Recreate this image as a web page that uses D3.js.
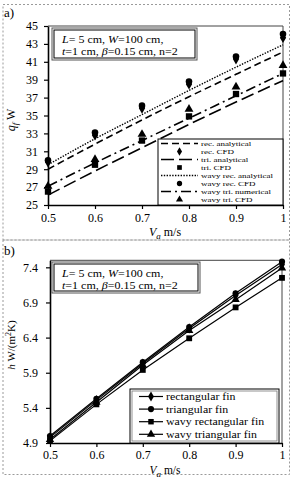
<!DOCTYPE html>
<html>
<head>
<meta charset="utf-8">
<script src="https://cdn.jsdelivr.net/npm/d3@7"></script>
<style>
  body { margin: 0; background: #fff; }
  svg text { font-family: 'Liberation Serif', 'Times New Roman', serif; fill: #000; }
</style>
</head>
<body>
<svg id="chart" width="296" height="480"></svg>
<script>
// air velocity V_a (m/s)
const speeds = [0.5, 0.6, 0.7, 0.8, 0.9, 1.0]
const speedTicks = [0.5, 0.6, 0.7, 0.8, 0.9, 1]

// panel a: heat rate q_f (W)
const qTicks = [25, 27, 29, 31, 33, 35, 37, 39, 41, 43, 45]
const qRecAnalytical = [29.0, 31.8, 34.5, 37.1, 39.6, 42.1]
const qRecCfd = [29.8, 32.8, 35.8, 38.5, 41.3, 43.7]
const qTriAnalytical = [26.1, 28.8, 31.4, 34.0, 36.5, 38.9]
const qTriCfd = [26.5, 29.5, 32.2, 34.9, 37.4, 39.7]
const qWavyRecAnalytical = [29.5, 32.4, 35.1, 37.8, 40.4, 42.9]
const qWavyRecCfd = [30.0, 33.1, 36.1, 38.8, 41.6, 44.1]
const qWavyTriNumerical = [27.1, 29.7, 32.2, 34.7, 37.2, 39.7]
const qWavyTriCfd = [27.1, 30.1, 32.9, 35.7, 38.2, 40.6]

// panel b: heat transfer coefficient h (W/(m2K))
const hTicks = [4.9, 5.4, 5.9, 6.4, 6.9, 7.4]
const hRect = [4.98, 5.51, 6.03, 6.53, 7.00, 7.44]
const hTri = [5.00, 5.53, 6.05, 6.55, 7.03, 7.48]
const hWavyRect = [4.93, 5.45, 5.94, 6.39, 6.83, 7.25]
const hWavyTri = [4.95, 5.48, 6.01, 6.50, 6.94, 7.39]

const svg = d3.select('#chart')

const symbolOf = {
  diamond: d3.symbolDiamond,
  square: d3.symbolSquare,
  circle: d3.symbolCircle,
  triangle: d3.symbolTriangle,
}

const toPoints = (values) => values.map((v, i) => ({ x: speeds[i], y: v }))

// the source image is a little stretched sideways, so wide-and-short text
const wideText = (x, y, size, stretch) =>
  svg.append('text')
    .attr('transform', `translate(${x},${y}) scale(${stretch},1)`)
    .style('font-size', `${size}px`)

const drawPanelBorder = (y0, y1, label, labelY) => {
  svg.append('rect')
    .attr('x', 3).attr('y', y0)
    .attr('width', 286.5).attr('height', y1 - y0)
    .attr('fill', 'none')
    .attr('stroke', '#9a9a9a')
    .attr('stroke-dasharray', '2,2')
  svg.append('text')
    .attr('x', 4).attr('y', labelY)
    .style('font-size', '13px')
    .text(label)
}

const drawAxes = ({ x, y, yTicks, yFormat, xPad, yPad }) => {
  const [x0, x1] = x.range()
  const [yb, yt] = y.range()

  // frame top/right
  svg.append('path')
    .attr('d', `M${x0},${yt}H${x1}V${yb}`)
    .attr('fill', 'none')
    .attr('stroke', '#444')
    .attr('stroke-width', 1)

  const gx = svg.append('g')
    .attr('transform', `translate(0,${yb})`)
    .call(d3.axisBottom(x).tickValues(speedTicks).tickSize(4).tickSizeOuter(0).tickPadding(xPad).tickFormat(d3.format('')))
  const gy = svg.append('g')
    .attr('transform', `translate(${x0},0)`)
    .call(d3.axisLeft(y).tickValues(yTicks).tickSize(4).tickSizeOuter(0).tickPadding(yPad).tickFormat(yFormat))

  ;[gx, gy].forEach((g) => {
    g.select('.domain').attr('stroke', '#000').attr('stroke-width', 1.6)
    g.selectAll('.tick line').attr('stroke', '#000').attr('stroke-width', 1.2)
    g.selectAll('.tick text')
      .style('font-family', "'Liberation Serif', serif")
      .style('font-size', '12px')
      .attr('fill', '#000')
  })
}

const drawXTitle = (cx, baseline, size) => {
  const t = svg.append('text')
    .attr('x', cx).attr('y', baseline)
    .attr('text-anchor', 'middle')
    .style('font-size', `${size}px`)
  t.append('tspan').style('font-style', 'italic').text('V')
  t.append('tspan').attr('dy', 3).style('font-size', '9px').style('font-style', 'italic').text('a')
  t.append('tspan').attr('dy', -3).text(' m/s')
}

const drawInfoBox = (x0, y0, w, h, baselines) => {
  svg.append('rect')
    .attr('x', x0).attr('y', y0).attr('width', w).attr('height', h)
    .attr('fill', '#fff').attr('stroke', '#555').attr('stroke-width', 1)
  svg.append('rect')
    .attr('x', x0 + 2).attr('y', y0 + 2).attr('width', w - 4).attr('height', h - 4)
    .attr('fill', 'none').attr('stroke', '#000').attr('stroke-width', 1)

  const l1 = wideText(x0 + 10, baselines[0], 10, 1.2)
  l1.append('tspan').style('font-style', 'italic').text('L')
  l1.append('tspan').text('= 5 cm, ')
  l1.append('tspan').style('font-style', 'italic').text('W')
  l1.append('tspan').text('=100 cm,')

  const l2 = wideText(x0 + 10, baselines[1], 10, 1.2)
  l2.append('tspan').style('font-style', 'italic').text('t')
  l2.append('tspan').text('=1 cm, ')
  l2.append('tspan').style('font-style', 'italic').text('β')
  l2.append('tspan').text('=0.15 cm, n=2')
}

const drawMarkers = (points, x, y, shape, size) => {
  svg.append('g')
    .selectAll('path')
    .data(points)
    .join('path')
    .attr('d', d3.symbol(symbolOf[shape], size))
    .attr('transform', (d) => `translate(${x(d.x)},${y(d.y)})`)
    .attr('fill', '#000')
}

// ---------------- panel a ----------------
drawPanelBorder(4.5, 240, 'a)', 17)

const xA = d3.scaleLinear().domain([0.5, 1]).range([48, 283])
const yA = d3.scaleLinear().domain([25, 45]).range([205, 26])

const seriesA = [
  { name: 'rec. analytical', values: qRecAnalytical, dash: '7,4', width: 1.6 },
  { name: 'rec. CFD', values: qRecCfd, marker: 'diamond' },
  { name: 'tri. analytical', values: qTriAnalytical, dash: '13,5', width: 1.6 },
  { name: 'tri. CFD', values: qTriCfd, marker: 'square' },
  { name: 'wavy rec. analytical', values: qWavyRecAnalytical, dash: '1.4,1.4', width: 1.4 },
  { name: 'wavy rec. CFD', values: qWavyRecCfd, marker: 'circle' },
  { name: 'wavy tri. numerical', values: qWavyTriNumerical, dash: '10,4,2,4', width: 1.6 },
  { name: 'wavy tri. CFD', values: qWavyTriCfd, marker: 'triangle' },
]

drawAxes({ x: xA, y: yA, yTicks: qTicks, yFormat: d3.format('d'), xPad: 4, yPad: 6 })

const lineA = d3.line().x((d) => xA(d.x)).y((d) => yA(d.y)).curve(d3.curveMonotoneX)

seriesA.filter((s) => s.dash).forEach((s) => {
  svg.append('path')
    .datum(toPoints(s.values))
    .attr('d', lineA)
    .attr('fill', 'none')
    .attr('stroke', '#000')
    .attr('stroke-width', s.width)
    .attr('stroke-dasharray', s.dash)
})
seriesA.filter((s) => s.marker).forEach((s) => {
  drawMarkers(toPoints(s.values), xA, yA, s.marker, s.marker === 'square' ? 40 : 34)
})

drawInfoBox(52, 28, 145, 32, [43, 55])

// legend a
svg.append('rect')
  .attr('x', 158).attr('y', 139).attr('width', 125).attr('height', 66)
  .attr('fill', '#fff').attr('stroke', '#000').attr('stroke-width', 1)

const legA = svg.append('g')
  .selectAll('g')
  .data(seriesA)
  .join('g')
  .attr('transform', (d, i) => `translate(0,${143.5 + i * 8})`)

legA.filter((d) => d.dash)
  .append('line')
  .attr('x1', 161).attr('x2', 198)
  .attr('stroke', '#000')
  .attr('stroke-width', (d) => d.width)
  .attr('stroke-dasharray', (d) => d.dash)
legA.filter((d) => d.marker)
  .append('path')
  .attr('transform', 'translate(179.5,0)')
  .attr('d', (d) => d3.symbol(symbolOf[d.marker], 22)())
  .attr('fill', '#000')
legA.append('text')
  .attr('transform', 'translate(201,0) scale(1.3,1)')
  .attr('dy', '0.33em')
  .style('font-size', '6.9px')
  .text((d) => d.name)

// axis titles a
drawXTitle(165, 236, 12)
const qTitle = svg.append('text')
  .attr('transform', 'translate(15,120) rotate(-90)')
  .attr('text-anchor', 'middle')
  .style('font-size', '12px')
qTitle.append('tspan').style('font-style', 'italic').text('q')
qTitle.append('tspan').attr('dy', 3).style('font-size', '9px').style('font-style', 'italic').text('f')
qTitle.append('tspan').attr('dy', -3).text(' W')

// ---------------- panel b ----------------
drawPanelBorder(240, 474.5, 'b)', 255)

const xB = d3.scaleLinear().domain([0.5, 1]).range([50, 282])
const yB = d3.scaleLinear().domain([4.9, 7.5]).range([443, 260.3])

const seriesB = [
  { name: 'rectangular fin', values: hRect, marker: 'diamond' },
  { name: 'triangular fin', values: hTri, marker: 'circle' },
  { name: 'wavy rectangular fin', values: hWavyRect, marker: 'square' },
  { name: 'wavy triangular fin', values: hWavyTri, marker: 'triangle' },
]

drawAxes({ x: xB, y: yB, yTicks: hTicks, yFormat: d3.format('.1f'), xPad: 3, yPad: 8 })

const lineB = d3.line().x((d) => xB(d.x)).y((d) => yB(d.y))

seriesB.forEach((s) => {
  svg.append('path')
    .datum(toPoints(s.values))
    .attr('d', lineB)
    .attr('fill', 'none')
    .attr('stroke', '#000')
    .attr('stroke-width', 1.2)
})
seriesB.forEach((s) => {
  drawMarkers(toPoints(s.values), xB, yB, s.marker, s.marker === 'square' ? 34 : 30)
})

drawInfoBox(52, 262, 148, 31, [277, 289])

// legend b
svg.append('rect')
  .attr('x', 130).attr('y', 389).attr('width', 149).attr('height', 54)
  .attr('fill', '#fff').attr('stroke', '#000').attr('stroke-width', 1)
svg.append('rect')
  .attr('x', 132).attr('y', 391).attr('width', 145).attr('height', 50)
  .attr('fill', 'none').attr('stroke', '#777').attr('stroke-width', 0.8)

const legB = svg.append('g')
  .selectAll('g')
  .data(seriesB)
  .join('g')
  .attr('transform', (d, i) => `translate(0,${396.5 + i * 12.6})`)

legB.append('line')
  .attr('x1', 139).attr('x2', 163)
  .attr('stroke', '#000').attr('stroke-width', 1.2)
legB.append('path')
  .attr('transform', 'translate(151,0)')
  .attr('d', (d) => d3.symbol(symbolOf[d.marker], 30)())
  .attr('fill', '#000')
legB.append('text')
  .attr('transform', 'translate(166,0) scale(1.1,1)')
  .attr('dy', '0.33em')
  .style('font-size', '10.8px')
  .text((d) => d.name)

// axis titles b
drawXTitle(165, 474, 11.5)
const hTitle = svg.append('text')
  .attr('transform', 'translate(15,345) rotate(-90)')
  .attr('text-anchor', 'middle')
  .style('font-size', '11px')
hTitle.append('tspan').style('font-style', 'italic').text('h')
hTitle.append('tspan').text(' W/(m')
hTitle.append('tspan').attr('dy', -4).style('font-size', '8px').text('2')
hTitle.append('tspan').attr('dy', 4).text('K)')
</script>
</body>
</html>
